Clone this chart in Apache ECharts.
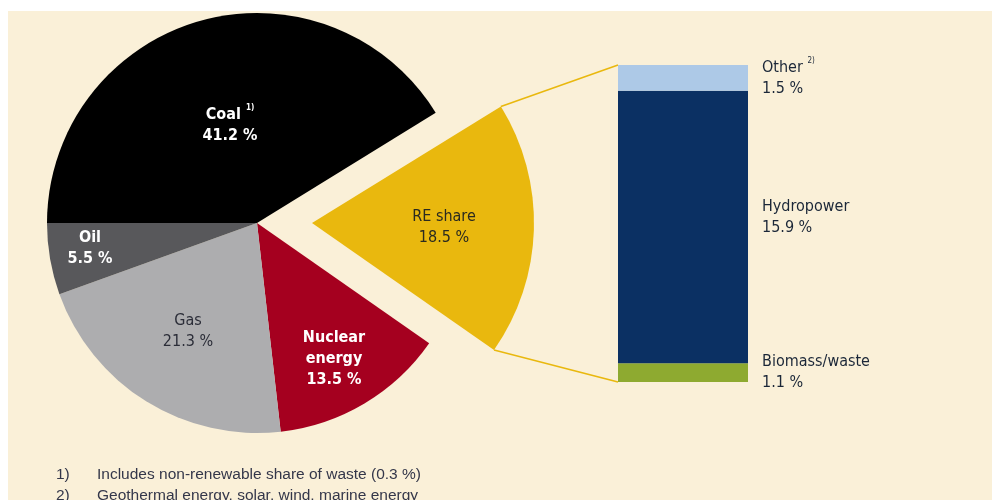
<!DOCTYPE html>
<html>
<head>
<meta charset="utf-8">
<script src="https://cdn.jsdelivr.net/npm/echarts@6/dist/echarts.min.js"></script>
<style>
  html, body { margin: 0; padding: 0; background: #ffffff; }
  #chart { width: 992px; height: 500px; }
</style>
</head>
<body>
<div id="chart"></div>
<script>
// Electricity generation by energy source, with the renewable share split out
const sources = ['Coal', 'RE share', 'Nuclear\nenergy', 'Gas', 'Oil'];
const sourceShares = [41.2, 18.5, 13.5, 21.3, 5.5];
const sourceNotes = ['1)', '', '', '', ''];

// Renewable share broken down, stacked from the bottom
const reParts = ['Biomass/waste', 'Hydropower', 'Other'];
const reShares = [1.1, 15.9, 1.5];
const reNotes = ['', '', '2)'];

const footnoteMarks = ['1)', '2)'];
const footnoteTexts = [
  'Includes non-renewable share of waste (0.3 %)',
  'Geothermal energy, solar, wind, marine energy'
];

// ---- styling and layout ----
const FONT = '"DejaVu Sans Condensed", "Liberation Sans Narrow", "Liberation Sans", sans-serif';
const CREAM = '#faf0d8';
const GOLD = '#e9b80e';
const sourceColors = ['#000000', GOLD, '#a5001f', '#adadaf', '#58585b'];
const sourceLabelColors = ['#ffffff', '#2a2a20', '#ffffff', '#2b2d38', '#ffffff'];
const sourceLabelWeights = ['bold', 'normal', 'bold', 'normal', 'bold'];
const reColors = ['#8eaa30', '#0b3063', '#adc9e7'];
const RE_INDEX = 1;

const pieCenter = [257, 223];
const pieRadius = 210;
const rePieCenter = [312, 223];
const rePieRadius = 222;
const labelAnchors = [[230, 125], [444, 227], [334, 359], [188, 331], [90, 248]];
const grid = { left: 618, top: 65, width: 130, bottom: 118 };

const reTotal = reShares.reduce((a, b) => a + b, 0);
const fmt = v => v.toFixed(1) + ' %';

const richBase = {
  t: { fontFamily: FONT, fontSize: 16, lineHeight: 21 },
  sup: { fontFamily: FONT, fontSize: 8, lineHeight: 12, verticalAlign: 'top' }
};

function labelText(name, value, note) {
  const lines = name.split('\n').map(s => '{t|' + s + '}');
  if (note) lines[lines.length - 1] += ' {sup|' + note + '}';
  lines.push('{t|' + fmt(value) + '}');
  return lines.join('\n');
}

function pieData(showIndex) {
  return sources.map((name, i) => {
    const visible = showIndex(i);
    return {
      name: name,
      value: sourceShares[i],
      itemStyle: { color: visible ? sourceColors[i] : 'rgba(0,0,0,0)' },
      label: {
        show: visible,
        color: sourceLabelColors[i],
        fontWeight: sourceLabelWeights[i]
      }
    };
  });
}

function pieSeries(center, radius, showIndex) {
  return {
    type: 'pie',
    center: center,
    radius: radius,
    startAngle: 180,
    clockwise: true,
    silent: true,
    avoidLabelOverlap: false,
    itemStyle: { borderWidth: 0 },
    emphasis: { disabled: true },
    labelLine: { show: false },
    label: {
      position: 'inside',
      fontFamily: FONT,
      fontSize: 16,
      formatter: p => labelText(p.name, p.value, sourceNotes[p.dataIndex]),
      rich: richBase
    },
    labelLayout: p => ({
      x: labelAnchors[p.dataIndex][0],
      y: labelAnchors[p.dataIndex][1],
      align: 'center',
      verticalAlign: 'middle'
    }),
    data: pieData(showIndex)
  };
}

const barSeries = reParts.map((name, i) => ({
  type: 'bar',
  name: name,
  stack: 're',
  barWidth: '100%',
  silent: true,
  itemStyle: { color: reColors[i] },
  label: {
    show: true,
    position: 'right',
    distance: 14,
    offset: i === 1 ? [0, -10] : [0, 0],
    color: '#1b2738',
    fontFamily: FONT,
    fontSize: 16,
    formatter: p => labelText(name, p.value, reNotes[i]),
    rich: richBase
  },
  data: [reShares[i]]
}));

const chart = echarts.init(document.getElementById('chart'), null, { renderer: 'canvas' });

chart.setOption({
  animation: false,
  backgroundColor: '#ffffff',
  grid: grid,
  xAxis: { type: 'category', data: ['RE'], show: false },
  yAxis: { type: 'value', min: 0, max: reTotal, show: false },
  series: [
    pieSeries(pieCenter, pieRadius, i => i !== RE_INDEX),
    pieSeries(rePieCenter, rePieRadius, i => i === RE_INDEX),
    ...barSeries
  ]
});

// Connector lines from the pulled-out RE wedge to the stacked bar
const total = sourceShares.reduce((a, b) => a + b, 0);
const before = sourceShares.slice(0, RE_INDEX).reduce((a, b) => a + b, 0);
const a1 = (180 - before / total * 360) * Math.PI / 180;
const a2 = (180 - (before + sourceShares[RE_INDEX]) / total * 360) * Math.PI / 180;
const wedgeTop = [rePieCenter[0] + rePieRadius * Math.cos(a1), rePieCenter[1] - rePieRadius * Math.sin(a1)];
const wedgeBottom = [rePieCenter[0] + rePieRadius * Math.cos(a2), rePieCenter[1] - rePieRadius * Math.sin(a2)];
const barTopY = chart.convertToPixel({ yAxisIndex: 0 }, reTotal);
const barBottomY = chart.convertToPixel({ yAxisIndex: 0 }, 0);
const barLeftX = grid.left;

const NOTE_FONT = '15.5px "Liberation Sans", sans-serif';
const graphics = [
  {
    type: 'rect', z: -10, silent: true,
    shape: { x: 8, y: 11, width: 984, height: 489 },
    style: { fill: CREAM }
  },
  {
    type: 'polyline', z: 1, silent: true,
    shape: { points: [wedgeTop, [barLeftX, barTopY]] },
    style: { stroke: GOLD, lineWidth: 1.6, fill: null }
  },
  {
    type: 'polyline', z: 1, silent: true,
    shape: { points: [wedgeBottom, [barLeftX, barBottomY]] },
    style: { stroke: GOLD, lineWidth: 1.6, fill: null }
  }
];

footnoteMarks.forEach((m, i) => {
  const y = 475 + i * 21;
  graphics.push({
    type: 'text', silent: true, x: 56, y: y,
    style: { text: m, fill: '#34374a', font: NOTE_FONT, verticalAlign: 'middle' }
  });
  graphics.push({
    type: 'text', silent: true, x: 97, y: y,
    style: { text: footnoteTexts[i], fill: '#34374a', font: NOTE_FONT, verticalAlign: 'middle' }
  });
});

chart.setOption({ graphic: graphics });
</script>
</body>
</html>
